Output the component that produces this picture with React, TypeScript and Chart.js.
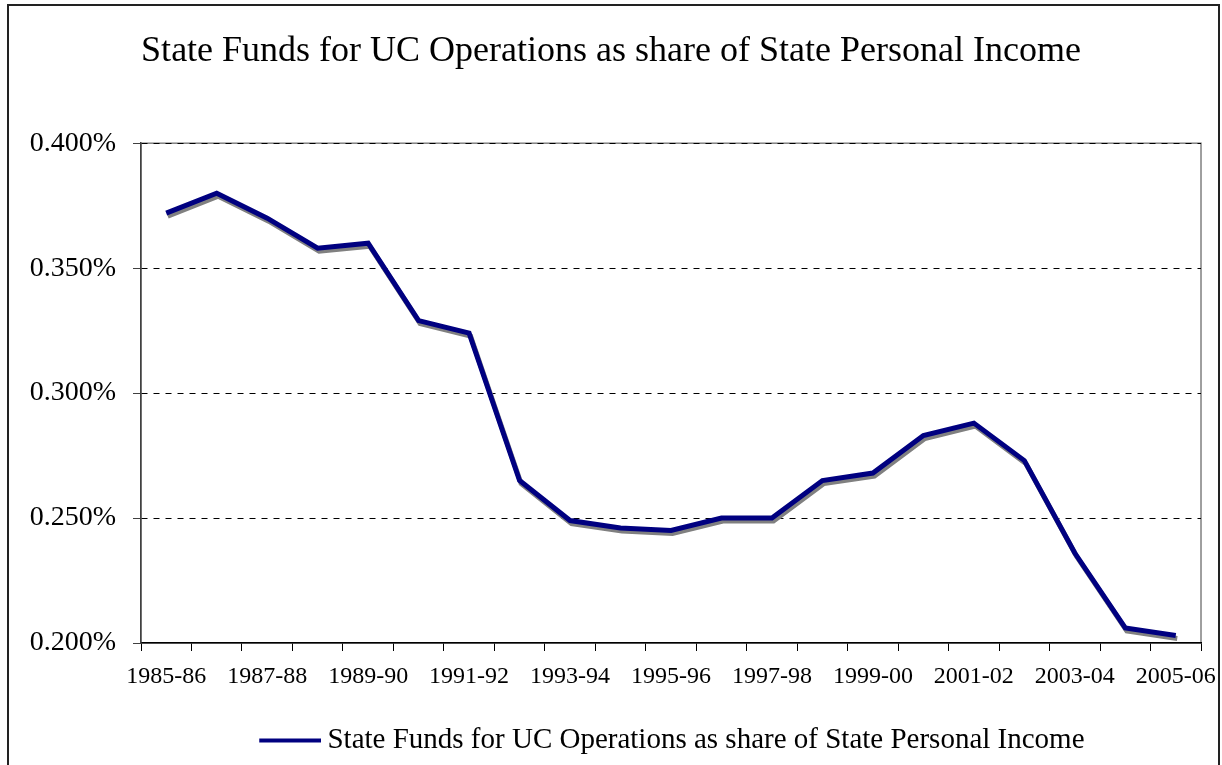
import React, { useEffect, useRef } from "react";
import { Chart, registerables } from "chart.js";

Chart.register(...registerables);

const TITLE = "State Funds for UC Operations as share of State Personal Income";
const SERIES_LABEL = "State Funds for UC Operations as share of State Personal Income";

const categories = [
  "1985-86", "1986-87", "1987-88", "1988-89", "1989-90", "1990-91", "1991-92",
  "1992-93", "1993-94", "1994-95", "1995-96", "1996-97", "1997-98", "1998-99",
  "1999-00", "2000-01", "2001-02", "2002-03", "2003-04", "2004-05", "2005-06",
];

// percent of state personal income
const shareValues = [
  0.372, 0.380, 0.370, 0.358, 0.360, 0.329, 0.324,
  0.265, 0.249, 0.246, 0.245, 0.250, 0.250, 0.265,
  0.268, 0.283, 0.288, 0.273, 0.236, 0.206, 0.203,
];

const yMin = 0.2;
const yMax = 0.4;
const yStep = 0.05;

const SERIF = "'Liberation Serif', 'Times New Roman', serif";

export default function App() {
  const canvasRef = useRef<HTMLCanvasElement | null>(null);

  useEffect(() => {
    if (!canvasRef.current) return;

    const legendImg = document.createElement("canvas");
    legendImg.width = 72;
    legendImg.height = 6;
    const lctx = legendImg.getContext("2d");
    if (lctx) {
      lctx.fillStyle = "#000080";
      lctx.fillRect(10, 1, 62, 4);
    }

    const frame = {
      id: "plotFrame",
      beforeDraw(chart: any) {
        const { ctx, chartArea } = chart;
        ctx.save();
        ctx.strokeStyle = "#808080";
        ctx.lineWidth = 1.5;
        ctx.strokeRect(chartArea.left, chartArea.top, chartArea.right - chartArea.left, chartArea.bottom - chartArea.top);
        ctx.restore();
      },
    };

    const shadow = {
      id: "lineShadow",
      beforeDatasetsDraw(chart: any) {
        const ctx = chart.ctx;
        ctx.save();
        ctx.shadowColor = "#808080";
        ctx.shadowOffsetX = 1.5;
        ctx.shadowOffsetY = 3;
        ctx.shadowBlur = 0;
      },
      afterDatasetsDraw(chart: any) {
        chart.ctx.restore();
      },
    };

    const chart = new Chart(canvasRef.current, {
      type: "line",
      data: {
        labels: categories,
        datasets: [
          {
            label: SERIES_LABEL,
            data: shareValues,
            borderColor: "#000080",
            backgroundColor: "#000080",
            borderWidth: 5,
            pointRadius: 0,
            pointHoverRadius: 0,
            tension: 0,
            fill: false,
            borderJoinStyle: "miter",
          },
        ],
      },
      options: {
        animation: false,
        responsive: false,
        maintainAspectRatio: false,
        events: [],
        layout: { padding: { top: 0, right: 0, bottom: 0, left: 0 } },
        plugins: {
          title: {
            display: true,
            text: TITLE,
            color: "#000",
            font: { family: SERIF, size: 36, weight: "normal" },
            padding: { top: 30, bottom: 70 },
          },
          legend: {
            display: true,
            position: "bottom",
            fullSize: false,
            labels: {
              color: "#000",
              font: { family: SERIF, size: 29 },
              usePointStyle: true,
              pointStyleWidth: 55.5,
              padding: 10,
              generateLabels(c: any) {
                const items = Chart.defaults.plugins.legend.labels.generateLabels(c);
                items.forEach((it: any) => {
                  it.pointStyle = legendImg;
                });
                return items;
              },
            },
          },
          tooltip: { enabled: false },
        },
        scales: {
          x: {
            type: "category",
            offset: true,
            afterFit(scale: any) {
              scale.height = 73;
              scale.paddingLeft = 0;
              scale.paddingRight = 0;
            },
            grid: {
              display: true,
              offset: true,
              drawOnChartArea: false,
              drawTicks: true,
              tickLength: 8,
              tickColor: "#000",
              tickWidth: 1,
            },
            border: { display: true, color: "#000", width: 1.5 },
            ticks: {
              autoSkip: false,
              maxRotation: 0,
              minRotation: 0,
              padding: 11,
              color: "#000",
              font: { family: SERIF, size: 24 },
              callback(_v: any, i: number) {
                return i % 2 === 0 ? categories[i] : "";
              },
            },
          },
          y: {
            min: yMin,
            max: yMax,
            afterFit(scale: any) {
              scale.width = 141;
            },
            grid: {
              display: true,
              color: (ctx: any) => (ctx.tick && ctx.tick.value <= yMin + 1e-9 ? "rgba(0,0,0,0)" : "#000"),
              lineWidth: 1,
              drawTicks: true,
              tickLength: 8,
              tickColor: "#404040",
              tickWidth: 1,
            },
            border: { display: true, color: "#404040", width: 1.5, dash: [6, 6] },
            ticks: {
              stepSize: yStep,
              padding: 17,
              color: "#000",
              font: { family: SERIF, size: 28 },
              callback(v: any) {
                return Number(v).toFixed(3) + "%";
              },
            },
          },
          yRight: {
            position: "right",
            min: yMin,
            max: yMax,
            afterFit(scale: any) {
              scale.width = 21;
            },
            grid: { display: false, drawTicks: false },
            border: { display: false },
            ticks: { display: false },
          },
        },
      },
      plugins: [frame, shadow],
    } as any);

    return () => chart.destroy();
  }, []);

  return (
    <>
      <div style={{ position: "fixed", left: 0, top: 0, width: 1222, height: 765, background: "#fff" }}>
        <canvas ref={canvasRef} width={1222} height={765} style={{ width: 1222, height: 765, display: "block" }} />
      </div>
      <div
        style={{
          position: "fixed",
          left: 7,
          top: 4,
          width: 1213,
          height: 800,
          boxSizing: "border-box",
          border: "2px solid #222",
          pointerEvents: "none",
        }}
      />
    </>
  );
}
